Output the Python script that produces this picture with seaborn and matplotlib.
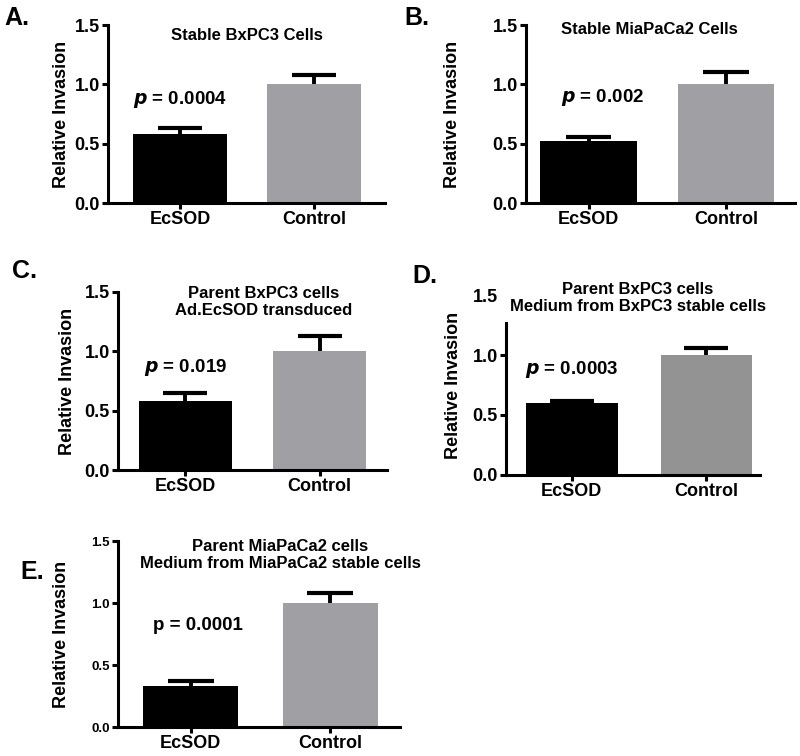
import matplotlib
matplotlib.use("Agg")
import matplotlib.pyplot as plt
import seaborn as sns
import numpy as np

sns.set_theme(style="white")
plt.rcParams['font.family'] = ['Liberation Sans', 'DejaVu Sans']
plt.rcParams['font.weight'] = 'bold'
plt.rcParams['text.color'] = 'black'
plt.rcParams['axes.labelcolor'] = 'black'
plt.rcParams['xtick.color'] = 'black'
plt.rcParams['ytick.color'] = 'black'

W, H = 800, 756
categories = ["EcSOD", "Control"]

labels = ["A.", "B.", "C.", "D.", "E."]
titles = ["Stable BxPC3 Cells",
          "Stable MiaPaCa2 Cells",
          "Parent BxPC3 cells\nAd.EcSOD transduced",
          "Parent BxPC3 cells\nMedium from BxPC3 stable cells",
          "Parent MiaPaCa2 cells\nMedium from MiaPaCa2 stable cells"]
ptexts = [r"$\bf{\it{p}}$ = 0.0004", r"$\bf{\it{p}}$ = 0.002", r"$\bf{\it{p}}$ = 0.019",
          r"$\bf{\it{p}}$ = 0.0003", "p = 0.0001"]

means_A = [0.58, 1.00]; err_A = [0.05, 0.08]
means_B = [0.52, 1.00]; err_B = [0.04, 0.10]
means_C = [0.58, 1.00]; err_C = [0.07, 0.13]
means_D = [0.60, 1.00]; err_D = [0.02, 0.06]
means_E = [0.33, 1.00]; err_E = [0.04, 0.08]
yticks = [0.0, 0.5, 1.0, 1.5]
ytick_labels = ["0.0", "0.5", "1.0", "1.5"]

gray = "#a0a0a4"
grayD = "#939393"

# layout (pixels): axes left, right, y of 1.5, y of 0.0 ; xlim ; bar width
layout = [
    dict(l=108, r=385, t=25, b=203, xlim=(-0.537, 1.53), w=0.70),
    dict(l=526, r=795, t=25, b=203, xlim=(-0.455, 1.50), w=0.70),
    dict(l=118, r=387, t=292, b=470, xlim=(-0.50, 1.50), w=0.69),
    dict(l=506, r=760, t=295, b=475, xlim=(-0.49, 1.40), w=0.68),
    dict(l=118, r=400, t=541, b=727, xlim=(-0.52, 1.50), w=0.68),
]
label_pos = [(4, 18), (404, 18), (12, 271), (412, 276), (20, 572)]
title_pos = [(247, 35), (649, 30), (264, 302), (638, 298), (280, 555)]
ylab_x = [70, 461, 76, 462, 70]
p_x = [0.0, 0.1, 0.0, 0.0, 0.05]
p_ypix = [99, 97, 367, 370, 626]

data = [(means_A, err_A), (means_B, err_B), (means_C, err_C), (means_D, err_D), (means_E, err_E)]

fig = plt.figure(figsize=(W / 100, H / 100), dpi=100)

for i, (lay, (means, errs)) in enumerate(zip(layout, data)):
    ax = fig.add_axes([lay['l'] / W, 1 - lay['b'] / H, (lay['r'] - lay['l']) / W, (lay['b'] - lay['t']) / H])
    colors = ["#000000", grayD if i == 3 else gray]
    sns.barplot(x=categories, y=means, hue=categories, palette=colors, legend=False,
                width=lay['w'], saturation=1, ax=ax, linewidth=0)
    xs = np.arange(len(categories))
    tops = np.array(means) + np.array(errs)
    ax.errorbar(x=xs, y=means, yerr=[[0, 0], errs], fmt='none', ecolor='black',
                elinewidth=2.8, capsize=0, zorder=5)
    ax.hlines(tops, xs - 0.165, xs + 0.165, colors='black', linewidth=3.0, zorder=5)
    ax.set_xlim(*lay['xlim'])
    ax.set_ylim(0, 1.5)
    ax.set_yticks(yticks)
    small = (i == 4)
    ax.set_yticklabels(ytick_labels, fontsize=9.5 if small else 13, fontweight='bold')
    ax.set_xticks(xs)
    ax.set_xticklabels(categories, fontsize=13, fontweight='bold')
    for s in ['top', 'right']:
        ax.spines[s].set_visible(False)
    for s in ['left', 'bottom']:
        ax.spines[s].set_linewidth(2.2)
        ax.spines[s].set_color('black')
    ax.tick_params(axis='both', direction='out', length=4.5, width=2.2, color='black',
                   labelcolor='black', left=True, bottom=True, pad=1.5)
    if i == 3:
        ax.spines['left'].set_bounds(0, 1.27)
        ax.yaxis.get_major_ticks()[-1].tick1line.set_visible(False)
    ax.set_ylabel("Relative Invasion", fontsize=13, fontweight='bold', color='black')
    ax.yaxis.set_label_coords((ylab_x[i] - lay['l']) / (lay['r'] - lay['l']), 0.5)
    ax.set_xlabel("")
    py = (lay['b'] - p_ypix[i]) / (lay['b'] - lay['t']) * 1.5
    ax.text(p_x[i], py, ptexts[i], ha='center', va='center', fontsize=13.5,
            fontweight='bold', color='black')
    tx, ty = title_pos[i]
    fig.text(tx / W, 1 - ty / H, titles[i], ha='center', va='center', fontsize=12,
             fontweight='bold', linespacing=1.15, color='black')
    lx, ly = label_pos[i]
    fig.text(lx / W, 1 - ly / H, labels[i], ha='left', va='center', fontsize=18,
             fontweight='bold', color='black')

fig.savefig("out.png", dpi=100, facecolor='white')
